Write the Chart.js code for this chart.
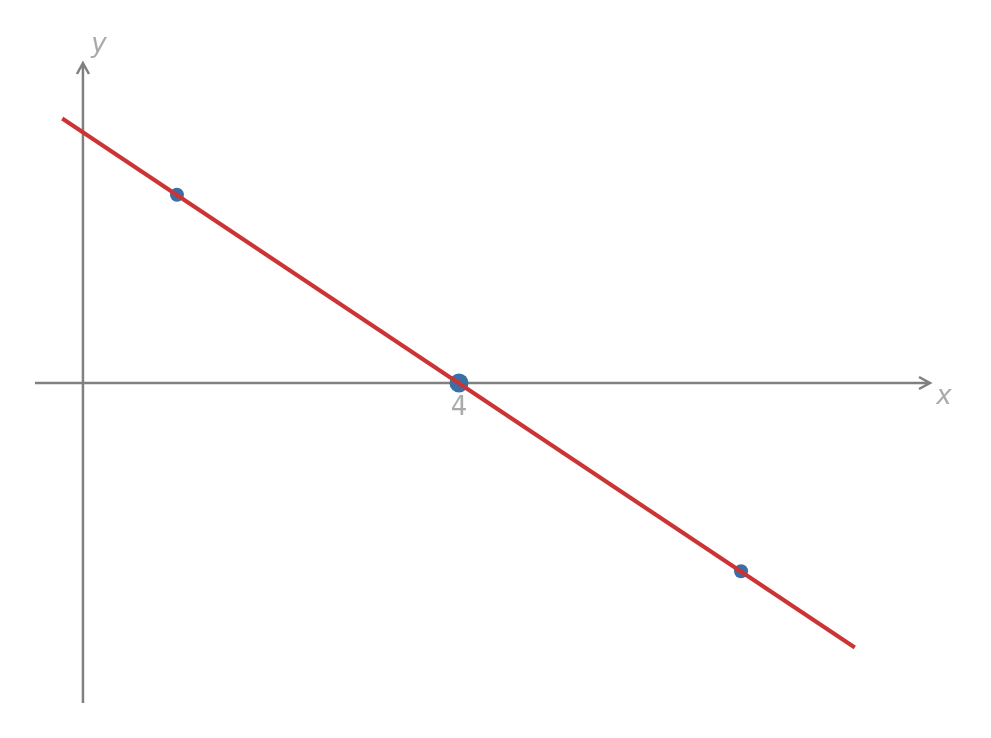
<!DOCTYPE html>
<html>
<head>
<meta charset="utf-8">
<script src="https://cdn.jsdelivr.net/npm/chart.js@4"></script>
<style>body{margin:0;background:#fff}</style>
</head>
<body>
<canvas id="c" width="991" height="738"></canvas>
<script>
// line y = -2/3 (x - 4), ends
const lineX = [-0.22, 8.21];
const lineY = [2.81, -2.81];
const pointX = [1, 7];
const pointY = [2, -2];
const rootX = [4];
const rootY = [0];
const tickLabels = ['4'];

const xRange = [-0.51, 9.01];
const yRange = [-3.4, 3.4];

const axesPlugin = {
  id: 'axes',
  beforeDatasetsDraw(chart) {
    const { ctx, scales: { x, y } } = chart;
    const x0 = x.getPixelForValue(0), y0 = y.getPixelForValue(0);
    const xl = x.getPixelForValue(xRange[0]), xr = x.getPixelForValue(xRange[1]);
    const yt = y.getPixelForValue(yRange[1]), yb = y.getPixelForValue(yRange[0]);
    ctx.save();
    ctx.strokeStyle = '#808080';
    ctx.lineWidth = 2.5;
    ctx.beginPath();
    ctx.moveTo(xl, y0); ctx.lineTo(xr, y0);
    ctx.moveTo(x0, yb); ctx.lineTo(x0, yt);
    // arrow heads
    ctx.moveTo(xr - 11, y0 - 6); ctx.lineTo(xr, y0); ctx.lineTo(xr - 11, y0 + 6);
    ctx.moveTo(x0 - 6, yt + 11); ctx.lineTo(x0, yt); ctx.lineTo(x0 + 6, yt + 11);
    ctx.stroke();
    ctx.fillStyle = '#aaaaaa';
    ctx.font = 'italic 26px "DejaVu Sans"';
    ctx.textAlign = 'center';
    ctx.textBaseline = 'middle';
    ctx.fillText('x', xr + 14, y0 + 14);
    ctx.fillText('y', x0 + 16, yt - 18);
    ctx.font = '26px "DejaVu Sans"';
    ctx.fillText(tickLabels[0], x.getPixelForValue(rootX[0]), y0 + 25);
    ctx.restore();
  }
};

new Chart(document.getElementById('c'), {
  type: 'scatter',
  data: {
    datasets: [
      {
        data: lineX.map((v, i) => ({ x: v, y: lineY[i] })),
        showLine: true, borderColor: '#cc3333', borderWidth: 4, pointRadius: 0
      },
      {
        data: pointX.map((v, i) => ({ x: v, y: pointY[i] })),
        backgroundColor: '#3a6ea5', borderWidth: 0, pointRadius: 7
      },
      {
        data: rootX.map((v, i) => ({ x: v, y: rootY[i] })),
        backgroundColor: '#3a6ea5', borderWidth: 0, pointRadius: 9.5
      }
    ]
  },
  options: {
    responsive: false,
    animation: false,
    layout: { padding: { left: 35, right: 61, top: 63, bottom: 35 } },
    plugins: { legend: { display: false }, tooltip: { enabled: false } },
    scales: {
      x: { type: 'linear', min: xRange[0], max: xRange[1], display: false },
      y: { type: 'linear', min: yRange[0], max: yRange[1], display: false }
    }
  },
  plugins: [axesPlugin]
});
</script>
</body>
</html>
